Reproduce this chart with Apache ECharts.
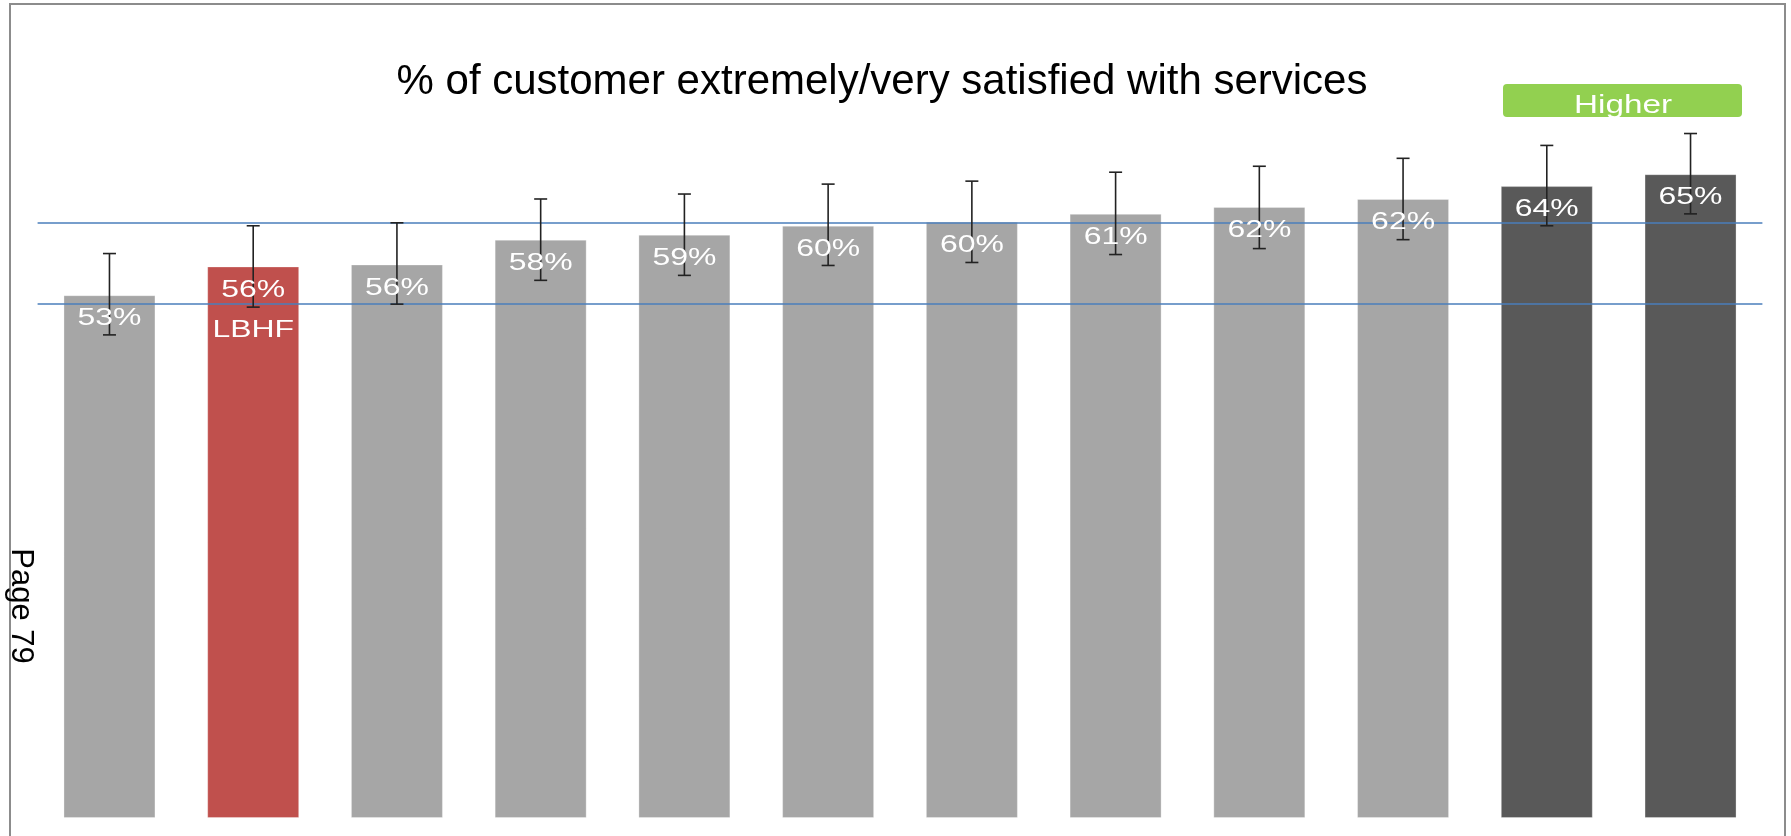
<!DOCTYPE html>
<html>
<head>
<meta charset="utf-8">
<script src="https://cdn.jsdelivr.net/npm/echarts@6/dist/echarts.min.js"></script>
<style>
html,body{margin:0;padding:0;background:#fff;}
#chart{width:1791px;height:836px;}
</style>
</head>
<body>
<div id="chart"></div>
<script>
// ---- data ----
const titleText = '% of customer extremely/very satisfied with services';
const categories = ['Council 1','LBHF','Council 3','Council 4','Council 5','Council 6','Council 7','Council 8','Council 9','Council 10','Council 11','Council 12'];
const groups = ['similar','LBHF','similar','similar','similar','similar','similar','similar','similar','similar','higher','higher'];
const values  = [52.7, 55.6, 55.8, 58.3, 58.8, 59.7, 60.1, 60.9, 61.6, 62.4, 63.7, 64.9];
const errLow  = [48.7, 51.5, 51.8, 54.2, 54.7, 55.7, 56.0, 56.8, 57.4, 58.3, 59.7, 60.9];
const errHigh = [56.9, 59.7, 60.0, 62.4, 62.9, 63.9, 64.2, 65.1, 65.7, 66.5, 67.8, 69.0];
const refLines = [60.0, 51.8];
const badgeText = 'Higher';
const pageText = 'Page 79';

// ---- styles ----
const colorMap = { similar: '#A6A6A6', LBHF: '#C0504D', higher: '#595959' };
const FONT = '"Liberation Sans", Arial, Helvetica, sans-serif';

const chart = echarts.init(document.getElementById('chart'));
const option = {
  backgroundColor: '#fff',
  animation: false,
  title: {
    text: titleText,
    left: 877,
    top: 56,
    textAlign: 'center',
    textStyle: { fontFamily: FONT, fontSize: 42, fontWeight: 'normal', color: '#000' }
  },
  grid: { left: 37.6, right: 28.6, top: 123.6, bottom: 18 },
  xAxis: {
    type: 'category',
    data: categories,
    show: false
  },
  yAxis: {
    type: 'value', min: 0, max: 70, show: false, splitLine: { show: false }
  },
  series: [
    {
      type: 'bar',
      barWidth: 92,
      data: values.map((v, i) => ({
        value: v,
        itemStyle: { color: colorMap[groups[i]], borderColor: 'rgba(255,255,255,0.3)', borderWidth: 1 }
      })),
      markLine: {
        silent: true,
        symbol: 'none',
        label: { show: false },
        lineStyle: { color: '#4A7EBB', width: 1.6, type: 'solid' },
        data: refLines.map(v => ({ yAxis: v }))
      },
      z: 2
    },
    {
      type: 'custom',
      z: 5,
      data: values.map((v, i) => [i, errLow[i], errHigh[i], v]),
      renderItem: function (params, api) {
        const i = api.value(0);
        const lo = api.coord([i, api.value(1)]);
        const hi = api.coord([i, api.value(2)]);
        const top = api.coord([i, api.value(3)]);
        const cap = 6.5;
        const ls = { stroke: '#222', lineWidth: 1.6 };
        const children = [
          { type: 'line', shape: { x1: hi[0], y1: hi[1], x2: lo[0], y2: lo[1] }, style: ls },
          { type: 'line', shape: { x1: hi[0] - cap, y1: hi[1], x2: hi[0] + cap, y2: hi[1] }, style: ls },
          { type: 'line', shape: { x1: lo[0] - cap, y1: lo[1], x2: lo[0] + cap, y2: lo[1] }, style: ls },
          {
            type: 'text', x: top[0], y: top[1] + 23.5, scaleX: 1.33, z2: 10,
            style: {
              text: Math.round(api.value(3)) + '%', fill: '#fff', font: '24px ' + FONT,
              align: 'center', verticalAlign: 'middle', textAlign: 'center', textVerticalAlign: 'middle'
            }
          }
        ];
        if (groups[i] === 'LBHF') {
          children.push({
            type: 'text', x: top[0], y: top[1] + 64, scaleX: 1.33, z2: 10,
            style: {
              text: categories[i], fill: '#fff', font: '24px ' + FONT,
              align: 'center', verticalAlign: 'middle', textAlign: 'center', textVerticalAlign: 'middle'
            }
          });
        }
        return { type: 'group', children: children };
      }
    }
  ],
  graphic: [
    {
      type: 'rect', z: 0,
      shape: { x: 10, y: 4, width: 1775, height: 850 },
      style: { fill: 'none', stroke: '#8C8C8C', lineWidth: 2 }
    },
    {
      type: 'rect', z: 10,
      shape: { x: 1503, y: 84, width: 239, height: 33, r: 4 },
      style: { fill: '#92D050' }
    },
    {
      type: 'text', z: 11, x: 1623, y: 106.5, scaleX: 1.33,
      style: {
        text: badgeText, fill: '#fff', font: '25px ' + FONT,
        align: 'center', verticalAlign: 'middle', textAlign: 'center', textVerticalAlign: 'middle'
      }
    },
    {
      type: 'text', z: 11, x: 21, y: 606, rotation: -Math.PI / 2,
      style: {
        text: pageText, fill: '#000', font: '31px ' + FONT,
        align: 'center', verticalAlign: 'middle', textAlign: 'center', textVerticalAlign: 'middle'
      }
    }
  ]
};
chart.setOption(option);
</script>
</body>
</html>
